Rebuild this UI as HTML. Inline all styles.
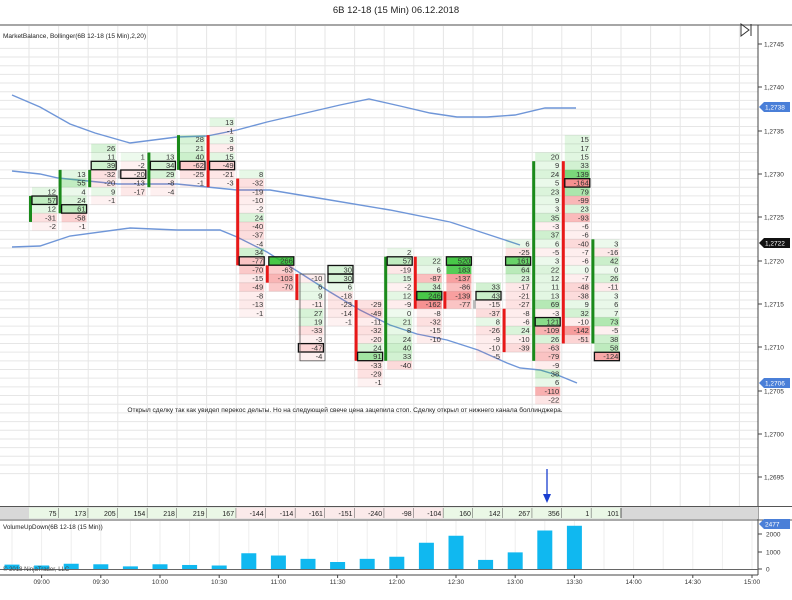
<!DOCTYPE html>
<html><head><meta charset="utf-8"><style>
body{margin:0;background:#fff;width:792px;height:600px;overflow:hidden}
svg{display:block;font-family:"Liberation Sans",sans-serif}
</style></head><body>
<svg id="s" width="792" height="600" viewBox="0 0 792 600"></svg>
<script>
const S=document.getElementById('s');let h='';
const Y=n=>261-8.68*n;
// grid
for(let n=-24;n<=25;n++){const y=Y(n)+4.34;if(y>26&&y<506)h+=`<line x1="0" x2="758" y1="${y}" y2="${y}" stroke="#e6e6e6" stroke-width="1"/>`;}
for(let k=0;k<26;k++){const x=29+29.6*(k-1)+29.6;if(x<758)h+=`<line x1="${x}" x2="${x}" y1="26" y2="506" stroke="#e6e6e6"/>`;}
for(let k=0;k<26;k++){const x=12+29.6*k;if(x<758)h+=`<line x1="${x}" x2="${x}" y1="521" y2="569" stroke="#eee"/>`;}
// bollinger
const pl=p=>`<polyline fill="none" stroke="#6f96d8" stroke-width="1.4" points="${p}"/>`;
h+=pl("12,95 40,107 70,124 95,133 130,143 177,137 207,136 237,130 267,122 310,112 340,105 369,99 400,106 430,113 457,117 487,117 515,115 545,108 576,108");
h+=pl("12,171 40,174 58,178 118,184 177,184 237,190 270,190 330,200 390,210 450,222 505,240 520,245");
h+=pl("12,247 40,246 70,236 130,228 177,230 220,230 237,237 267,252 297,271 330,292 360,310 390,325 417,334 447,340 478,350 507,363 520,368 540,370 560,376 577,383");
// footprint data: [col, topRow, values, boxIdx(list), barColor, barTop, barBot]
const D=[
[1,8,[12,57,12,-31,-2],[7],'g',7,5],
[2,10,[13,55,4,24,61,-58,-1],[6],'g',10,6],
[3,13,[26,11,39,-32,-20,9,-1],[11],'g',10,9],
[4,12,[1,-2,-20,-13,-17],[10],'n',10,10],
[5,12,[13,34,29,-8,-4],[11],'g',12,9],
[6,14,[28,21,40,-62,-25,-1],[11],'g',14,11],
[7,16,[13,-1,3,-9,15,-49,-21,-3],[11],'r',14,9],
[8,10,[8,-32,-19,-10,-2,24,-40,-37,-4,34,-77,-70,-15,-49,-8,-13,-1],[0],'r',9,0],
[9,0,[266,-63,-103,-70],[0],'r',-1,-2],
[10,-2,[-10,6,9,-11,27,19,-33,-3,-47,-4],[-10],'r',-2,-4],
[11,-1,[30,30,6,-18,-23,-14,-1],[-1,-2],'',0,0],
[12,-5,[-29,-49,-11,-32,-20,24,91,-33,-29,-1],[-11],'r',-5,-11],
[13,1,[2,57,-19,15,-2,12,-9,0,21,8,24,40,33,-40],[0],'g',0,-11],
[14,0,[22,6,-87,34,246,-162,-8,-32,-15,-10],[-4],'r',0,-5],
[15,0,[520,183,-137,-86,-139,-77],[0],'r',-4,-5],
[16,-3,[33,43,-15,-37,8,-26,-9,-10,-5],[-4],'n',-5,-5],
[17,2,[6,-25,161,64,23,-17,-21,-27,-8,-6,24,-10,-39],[0],'r',-6,-10],
[18,12,[20,9,24,5,23,9,3,35,-3,37,6,-5,3,22,12,11,13,69,-3,121,-109,26,-63,-79,-9,38,6,-110,-22],[-7],'g',11,-11],
[19,14,[15,17,15,33,139,-164,79,-99,23,-93,-6,-6,-40,-7,-6,0,-7,-48,-38,9,32,-10,-142,-51],[9],'r',11,-9],
[20,2,[3,-16,42,0,26,-11,3,6,7,73,-5,38,58,-124],[-11],'g',2,-9]];
let boxes='';
D.forEach(([c,t,v,bx,bc,bt,bb])=>{
 const x0=29+29.6*(c-1);
 v.forEach((val,i)=>{const n=t-i,y=Y(n);
  let a=Math.min(0.08+Math.abs(val)/260,0.85);
  const col=val>=0?`rgba(40,190,40,${a})`:`rgba(240,60,60,${a*0.8})`;
  h+=`<rect x="${x0+3}" y="${y-4.34}" width="25" height="8.68" fill="${col}"/>`;
  h+=`<text x="${x0+27}" y="${y+2.7}" font-size="7.6" text-anchor="end" fill="#333">${val}</text>`;
  if(bx.includes(n))boxes+=`<rect x="${x0+3}" y="${y-4.2}" width="25" height="8.4" fill="none" stroke="#111" stroke-width="1.3"/>`;
 });
 if(bc){const cc=bc=='g'?'#1a8a1a':bc=='r'?'#e81818':'#bbb';
  h+=`<rect x="${x0}" y="${Y(bt)-4.34}" width="3" height="${(bt-bb+1)*8.68}" fill="${cc}"/>`;}
});
h+=boxes;
h+=`<rect x="300" y="${Y(-2)-4.34}" width="25" height="${10*8.68}" fill="none" stroke="#555" stroke-width="0.8"/>`;
// annotation
h+=`<text x="345" y="412" font-size="6.6" text-anchor="middle" fill="#222">Открыл сделку так как увидел перекос дельты. Но на следующей свече цена зацепила стоп. Сделку открыл от нижнего канала боллинджера.</text>`;
// arrow
h+=`<line x1="547" y1="469" x2="547" y2="496" stroke="#1a3fd0" stroke-width="1.3"/><polygon points="543,494 551,494 547,503" fill="#1a3fd0"/>`;
// top
h+=`<text x="396" y="13" font-size="9.5" text-anchor="middle" fill="#222">6B 12-18 (15 Min)  06.12.2018</text>`;
h+=`<line x1="0" x2="792" y1="25" y2="25" stroke="#888" stroke-width="1.5"/>`;
h+=`<text x="3" y="38" font-size="6.5" fill="#222">MarketBalance, Bollinger(6B 12-18 (15 Min),2,20)</text>`;
h+=`<polygon points="741,24 741,36 749,30" fill="none" stroke="#333"/><line x1="751" x2="751" y1="24" y2="36" stroke="#333"/>`;
// right axis
h+=`<line x1="758" x2="758" y1="25" y2="575" stroke="#444"/>`;
[[44,'1,2745'],[87,'1,2740'],[131,'1,2735'],[174,'1,2730'],[217,'1,2725'],[261,'1,2720'],[304,'1,2715'],[347,'1,2710'],[391,'1,2705'],[434,'1,2700'],[477,'1,2695']].forEach(([y,t])=>{
 h+=`<line x1="758" x2="762" y1="${y}" y2="${y}" stroke="#444"/><text x="764" y="${y+2.5}" font-size="6.5" fill="#333">${t}</text>`;});
const tag=(y,t,c)=>{h+=`<polygon points="759,${y} 764,${y-5} 790,${y-5} 790,${y+5} 764,${y+5}" fill="${c}"/><text x="765" y="${y+2.5}" font-size="6.5" fill="#fff">${t}</text>`;};
tag(107,'1,2738','#4a7fd8');tag(243,'1,2722','#111');tag(383,'1,2706','#4a7fd8');
// delta row
h+=`<rect x="0" y="507" width="758" height="12" fill="#d8d8d8"/>`;
h+=`<line x1="0" x2="792" y1="506.5" y2="506.5" stroke="#555"/><line x1="0" x2="792" y1="520" y2="520" stroke="#555"/>`;
[75,173,205,154,218,219,167,-144,-114,-161,-151,-240,-98,-104,160,142,267,356,1,101].forEach((v,i)=>{
 const x0=29+29.6*i;
 h+=`<rect x="${x0}" y="507.5" width="29.6" height="11" fill="${v>=0?'#eaf7e6':'#fbeaea'}"/><line x1="${x0+29.6}" x2="${x0+29.6}" y1="508" y2="518" stroke="#555"/>`;
 h+=`<text x="${x0+27.5}" y="516" font-size="7" text-anchor="end" fill="#222">${v}</text>`;});
// volume panel
h+=`<text x="3" y="529" font-size="6.3" fill="#222">VolumeUpDown(6B 12-18 (15 Min))</text>`;
[[250],[200],[300],[270],[150],[270],[230],[200],[900],[770],[580],[400],[580],[700],[1500],[1900],[520],[950],[2200],[2470]].forEach(([v],k)=>{
 const c=12+29.6*k,hh=v*0.0175;h+=`<rect x="${c-7.5}" y="${569-hh}" width="15" height="${hh}" fill="#10b8f0"/>`;});
h+=`<line x1="0" x2="758" y1="569.5" y2="569.5" stroke="#666"/>`;
h+=`<text x="3" y="571" font-size="6" fill="#444">© 2018 NinjaTrader, LLC</text>`;
[[534,'2000'],[552,'1000'],[569,'0']].forEach(([y,t])=>{h+=`<line x1="758" x2="762" y1="${y}" y2="${y}" stroke="#444"/><text x="766" y="${y+2.5}" font-size="6.5" fill="#333">${t}</text>`;});
tag(524,'2477','#4a7fd8');
h+=`<line x1="0" x2="758" y1="575" y2="575" stroke="#444"/>`;
['09:00','09:30','10:00','10:30','11:00','11:30','12:00','12:30','13:00','13:30','14:00','14:30','15:00'].forEach((t,i)=>{
 const x=41.6+59.2*i;h+=`<line x1="${x}" x2="${x}" y1="575" y2="578" stroke="#444"/><text x="${x}" y="584" font-size="6.5" text-anchor="middle" fill="#333">${t}</text>`;});
S.innerHTML=h;
</script>
</body></html>
